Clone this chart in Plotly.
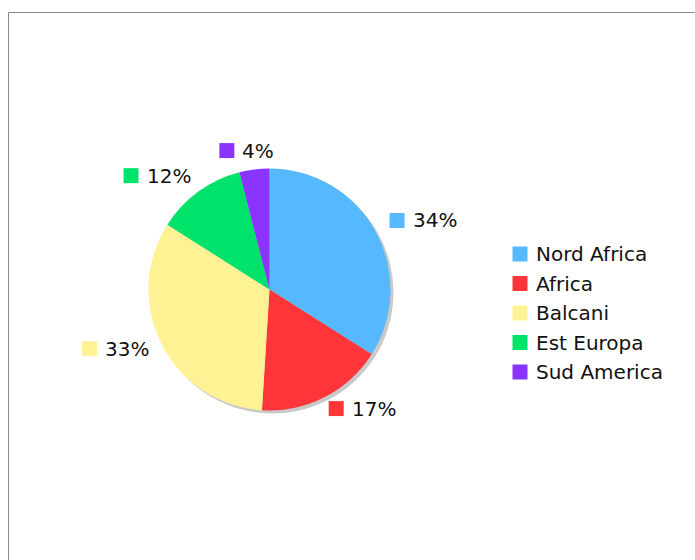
import math
import plotly.graph_objects as go

# Share of each origin area (percent)
categories = ["Nord Africa", "Africa", "Balcani", "Est Europa", "Sud America"]
values = [34, 17, 33, 12, 4]
colors = ["#56B9FF", "#FF3539", "#FFF294", "#00E36A", "#8A35FF"]
shadow_color = "#C9C9C9"

W, H = 695, 560
FONT = "DejaVu Sans"
FS = 20

# pie geometry in pixels
CX, CY, R = 269.5, 289.5, 121.0
SHADOW_DX, SHADOW_DY = 3, 3


def px(x):
    return x / W


def py(y):
    return 1 - y / H


def domain(cx, cy, r):
    return dict(x=[px(cx - r), px(cx + r)], y=[py(cy + r), py(cy - r)])


fig = go.Figure()

# drop shadow: same pie in gray, shifted down-right
fig.add_trace(go.Pie(
    values=values, labels=categories, sort=False, direction="clockwise",
    rotation=0, marker=dict(colors=[shadow_color] * len(values), line=dict(width=0)),
    textinfo="none", hoverinfo="skip", showlegend=False,
    domain=domain(CX + SHADOW_DX, CY + SHADOW_DY, R),
))

fig.add_trace(go.Pie(
    values=values, labels=categories, sort=False, direction="clockwise",
    rotation=0, marker=dict(colors=colors, line=dict(width=0)),
    textinfo="none", hoverinfo="label+percent", showlegend=False,
    domain=domain(CX, CY, R),
))

shapes = []
annotations = []

# outer frame (only top and left edges fall inside the page)
shapes.append(dict(type="rect", xref="paper", yref="paper",
                   x0=px(8.5), x1=px(W + 20), y0=py(H + 20), y1=py(12.5),
                   line=dict(color="#8A8A8A", width=1), fillcolor="rgba(0,0,0,0)"))

SQ = 15
GAP = 6


def text_width(s):
    em = {"%": 0.95}
    return sum(em.get(c, 0.636) for c in s) * FS


# percent labels: anchored on a ring outside the pie at each slice's mid-angle;
# left-aligned on the right half, right-aligned on the left half, and blended
# toward centred for slices near the top/bottom
total = sum(values)
cum = 0
RL = 137
for val, col in zip(values, colors):
    mid = (cum + val / 2) / total * 2 * math.pi
    cum += val
    dx, dy = math.sin(mid), -math.cos(mid)
    label = f"{round(val / total * 100)}%"
    w = SQ + GAP + text_width(label)
    ax, ay = CX + RL * dx, CY + RL * dy - 3
    f = (1 - max(-1.0, min(1.0, dx / 0.5))) / 2
    left = ax - w * f
    shapes.append(dict(type="rect", xref="paper", yref="paper",
                       x0=px(left), x1=px(left + SQ),
                       y0=py(ay + SQ / 2), y1=py(ay - SQ / 2),
                       fillcolor=col, line=dict(width=0)))
    annotations.append(dict(x=px(left + SQ + GAP), y=py(ay), xref="paper", yref="paper",
                            text=label, showarrow=False, xanchor="left", yanchor="middle",
                            font=dict(family=FONT, size=FS, color="#111111")))

# legend
LX, LY0, LDY = 512.5, 254, 29.5
for i, (name, col) in enumerate(zip(categories, colors)):
    y = LY0 + i * LDY
    shapes.append(dict(type="rect", xref="paper", yref="paper",
                       x0=px(LX), x1=px(LX + SQ),
                       y0=py(y + SQ / 2), y1=py(y - SQ / 2),
                       fillcolor=col, line=dict(width=0)))
    annotations.append(dict(x=px(LX + SQ + 6), y=py(y), xref="paper", yref="paper",
                            text=name, showarrow=False, xanchor="left", yanchor="middle",
                            font=dict(family=FONT, size=FS, color="#111111")))

fig.update_layout(
    width=W, height=H,
    margin=dict(l=0, r=0, t=0, b=0),
    paper_bgcolor="white", plot_bgcolor="white",
    shapes=shapes, annotations=annotations,
    showlegend=False,
)

fig.write_html("out.html")
